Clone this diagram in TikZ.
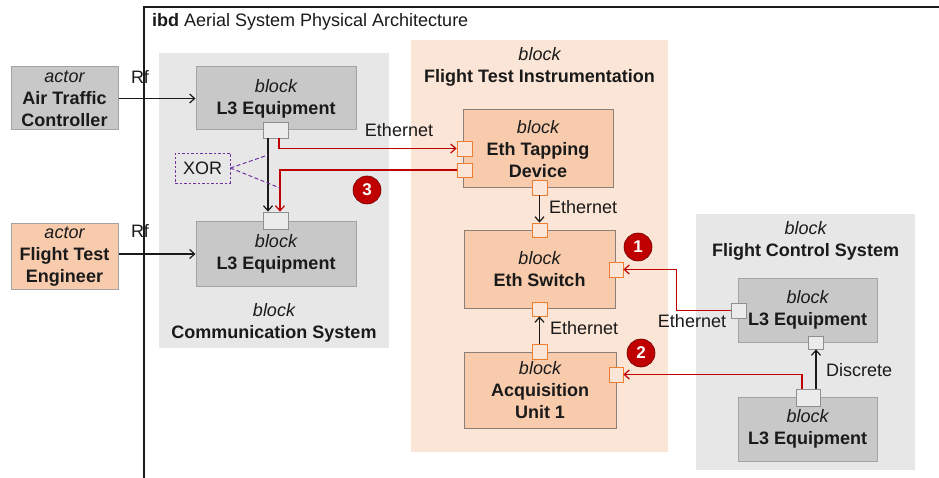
\documentclass[tikz,border=0pt]{standalone}
\usepackage{fontspec}
\setmainfont{Liberation Sans}
\usetikzlibrary{arrows.meta}
\definecolor{ink}{HTML}{1A1A1A}
\definecolor{boxgray}{HTML}{C8C8C8}
\definecolor{boxedge}{HTML}{A3A3A3}
\definecolor{pangray}{HTML}{E7E7E7}
\definecolor{peach}{HTML}{F8CBAD}
\definecolor{peachpan}{HTML}{FBE5D6}
\definecolor{peachedge}{HTML}{8A8078}
\definecolor{portgray}{HTML}{EBEBEB}
\definecolor{portedge}{HTML}{8F8F8F}
\definecolor{portorange}{HTML}{ED7D31}
\definecolor{flowred}{HTML}{C00000}
\definecolor{xorpurple}{HTML}{7030A0}
\tikzset{
  txt/.style={font=\fontsize{18}{22}\selectfont, text=ink, align=center, inner sep=0pt},
  panel/.style={draw=none, inner sep=0pt},
  graybox/.style={txt, fill=boxgray, draw=boxedge, line width=1pt},
  peachbox/.style={txt, fill=peach, draw=peachedge, line width=1pt},
  gport/.style={fill=portgray, draw=portedge, line width=0.8pt, inner sep=0pt},
  oport/.style={fill=peachpan, draw=portorange, line width=0.8pt, inner sep=0pt},
  badge/.style={circle, fill=flowred, draw=flowred!60!black, line width=0.6pt,
    minimum size=28pt, inner sep=0pt, text=white, font=\fontsize{17}{17}\selectfont\bfseries},
  blackflow/.style={draw=ink, line width=1.3pt, -{Straight Barb[length=5pt,width=9pt,line width=1.2pt]}},
  redflow/.style={draw=flowred, line width=1.4pt, -{Straight Barb[length=5pt,width=9pt,line width=1.2pt]}},
  lbl/.style={font=\fontsize{18}{20}\selectfont, text=ink, inner sep=0pt},
}
\begin{document}
\begin{tikzpicture}[x=1pt,y=-1pt]
\useasboundingbox (0,0) rectangle (939,478);
\fill[white] (0,0) rectangle (939,478);

% diagram frame and title
\draw[line width=2pt, ink] (144,478) -- (144,7) -- (940,7);
\node[lbl, anchor=west] (title) at (152,22) {\textbf{ibd} Aerial System Physical Architecture};

% containing blocks
\node[panel, fill=pangray, minimum width=230pt, minimum height=295pt] (comm) at (274,200.5) {};
\node[panel, fill=peachpan, minimum width=257pt, minimum height=412pt] (fti) at (539.5,246) {};
\node[panel, fill=pangray, minimum width=219pt, minimum height=256pt] (fcs) at (805.5,342) {};
\node[txt] (commlbl) at (274,323) {\itshape block\\\bfseries Communication System};
\node[txt] (ftilbl) at (539.5,67) {\itshape block\\\bfseries Flight Test Instrumentation};
\node[txt] (fcslbl) at (805.5,241) {\itshape block\\\bfseries Flight Control System};

% actors
\node[graybox, minimum width=107pt, minimum height=63pt] (atc) at (64.5,98.5)
  {\itshape actor\\\bfseries Air Traffic\\\bfseries Controller};
\node[peachbox, draw=boxedge, minimum width=107pt, minimum height=65pt] (fte) at (64.5,256.5)
  {\itshape actor\\\bfseries Flight Test\\\bfseries Engineer};

% communication system parts
\node[graybox, minimum width=160pt, minimum height=63pt] (l3a) at (276,98.5) {\itshape block\\\bfseries L3 Equipment};
\node[graybox, minimum width=160pt, minimum height=64pt] (l3b) at (276,254) {\itshape block\\\bfseries L3 Equipment};
\node[gport, minimum width=25pt, minimum height=16pt] (pa) at (275.5,130) {};
\node[gport, minimum width=25pt, minimum height=17pt] (pb) at (275.5,220.5) {};
\node[txt, draw=xorpurple, dashed, line width=0.8pt, dash pattern=on 2.5pt off 2pt,
  minimum width=55pt, minimum height=30pt] (xor) at (202.5,168) {XOR};

% flight test instrumentation parts
\node[peachbox, minimum width=150pt, minimum height=78pt] (tap) at (538,149)
  {\itshape block\\\bfseries Eth Tapping\\\bfseries Device};
\node[peachbox, minimum width=151pt, minimum height=77pt] (sw) at (539.5,269.5)
  {\itshape block\\\bfseries Eth Switch};
\node[peachbox, minimum width=152pt, minimum height=76pt] (acq) at (540,390)
  {\itshape block\\\bfseries Acquisition\\\bfseries Unit 1};
\node[oport, minimum width=15pt, minimum height=15pt] (tp1) at (464.5,148.5) {};
\node[oport, minimum width=15pt, minimum height=14pt] (tp2) at (464.5,170) {};
\node[oport, minimum width=15pt, minimum height=15pt] (tpb) at (539.5,187.5) {};
\node[oport, minimum width=15pt, minimum height=14pt] (swt) at (539.5,230) {};
\node[oport, minimum width=14pt, minimum height=15pt] (swr) at (616,269.5) {};
\node[oport, minimum width=15pt, minimum height=14pt] (swb) at (539.5,309) {};
\node[oport, minimum width=15pt, minimum height=15pt] (acqt) at (539.5,351.5) {};
\node[oport, minimum width=14pt, minimum height=15pt] (acqr) at (616,374.5) {};

% flight control system parts
\node[graybox, minimum width=139pt, minimum height=64pt] (fl3a) at (807.5,310) {\itshape block\\\bfseries L3 Equipment};
\node[graybox, minimum width=139pt, minimum height=64pt] (fl3b) at (807.5,429) {\itshape block\\\bfseries L3 Equipment};
\node[gport, minimum width=15pt, minimum height=15pt] (fpl) at (738.5,310.5) {};
\node[gport, minimum width=15pt, minimum height=13pt] (fpb) at (815.5,342.5) {};
\node[gport, minimum width=24pt, minimum height=17pt] (fpt) at (808,397.5) {};

% radio links
\draw[blackflow] (atc.east) -- (l3a.west);
\draw[blackflow] (fte.east |- l3b.west) -- (l3b.west);
\node[lbl] (rf1) at (140,77) {Rf};
\node[lbl] (rf2) at (140,231) {Rf};

% links inside the communication system
\draw[blackflow] ([xshift=-7.5pt]pa.south) -- ([xshift=-7.5pt]pb.north);
\draw[redflow] ([xshift=3.5pt]pa.south) |- (tp1.west);
\draw[redflow] (tp2.west) -| ([xshift=4.5pt]pb.north);
\coordinate (xa) at (268,155);
\coordinate (xb) at (280,188);
\draw[xorpurple, line width=1pt, dash pattern=on 4pt off 2.5pt] (xor.east) -- (xa);
\draw[xorpurple, line width=1pt, dash pattern=on 4pt off 2.5pt] (xor.east) -- (xb);
\node[lbl] (eth1) at (399,130) {Ethernet};

% ethernet links inside the instrumentation
\draw[blackflow] (tpb.south) -- (swt.north);
\node[lbl, anchor=west] (eth2) at (549,207) {Ethernet};
\draw[blackflow] (acqt.north) -- (swb.south);
\node[lbl, anchor=west] (eth3) at (550,328) {Ethernet};

% links from the flight control system
\draw[redflow] (fpl.west) -- ++(-54pt,0) |- (swr.east);
\node[lbl] (eth4) at (692,321) {Ethernet};
\draw[redflow] ([xshift=-6pt]fpt.north) |- (acqr.east);
\draw[blackflow] ([xshift=8pt]fpt.north) -- ([xshift=0.5pt]fpb.south);
\node[lbl, anchor=west] (disc) at (826,370) {Discrete};

% numbered markers
\node[badge] (b1) at (638,247) {1};
\node[badge] (b2) at (641,353) {2};
\node[badge] (b3) at (367,190) {3};
\end{tikzpicture}
\end{document}
